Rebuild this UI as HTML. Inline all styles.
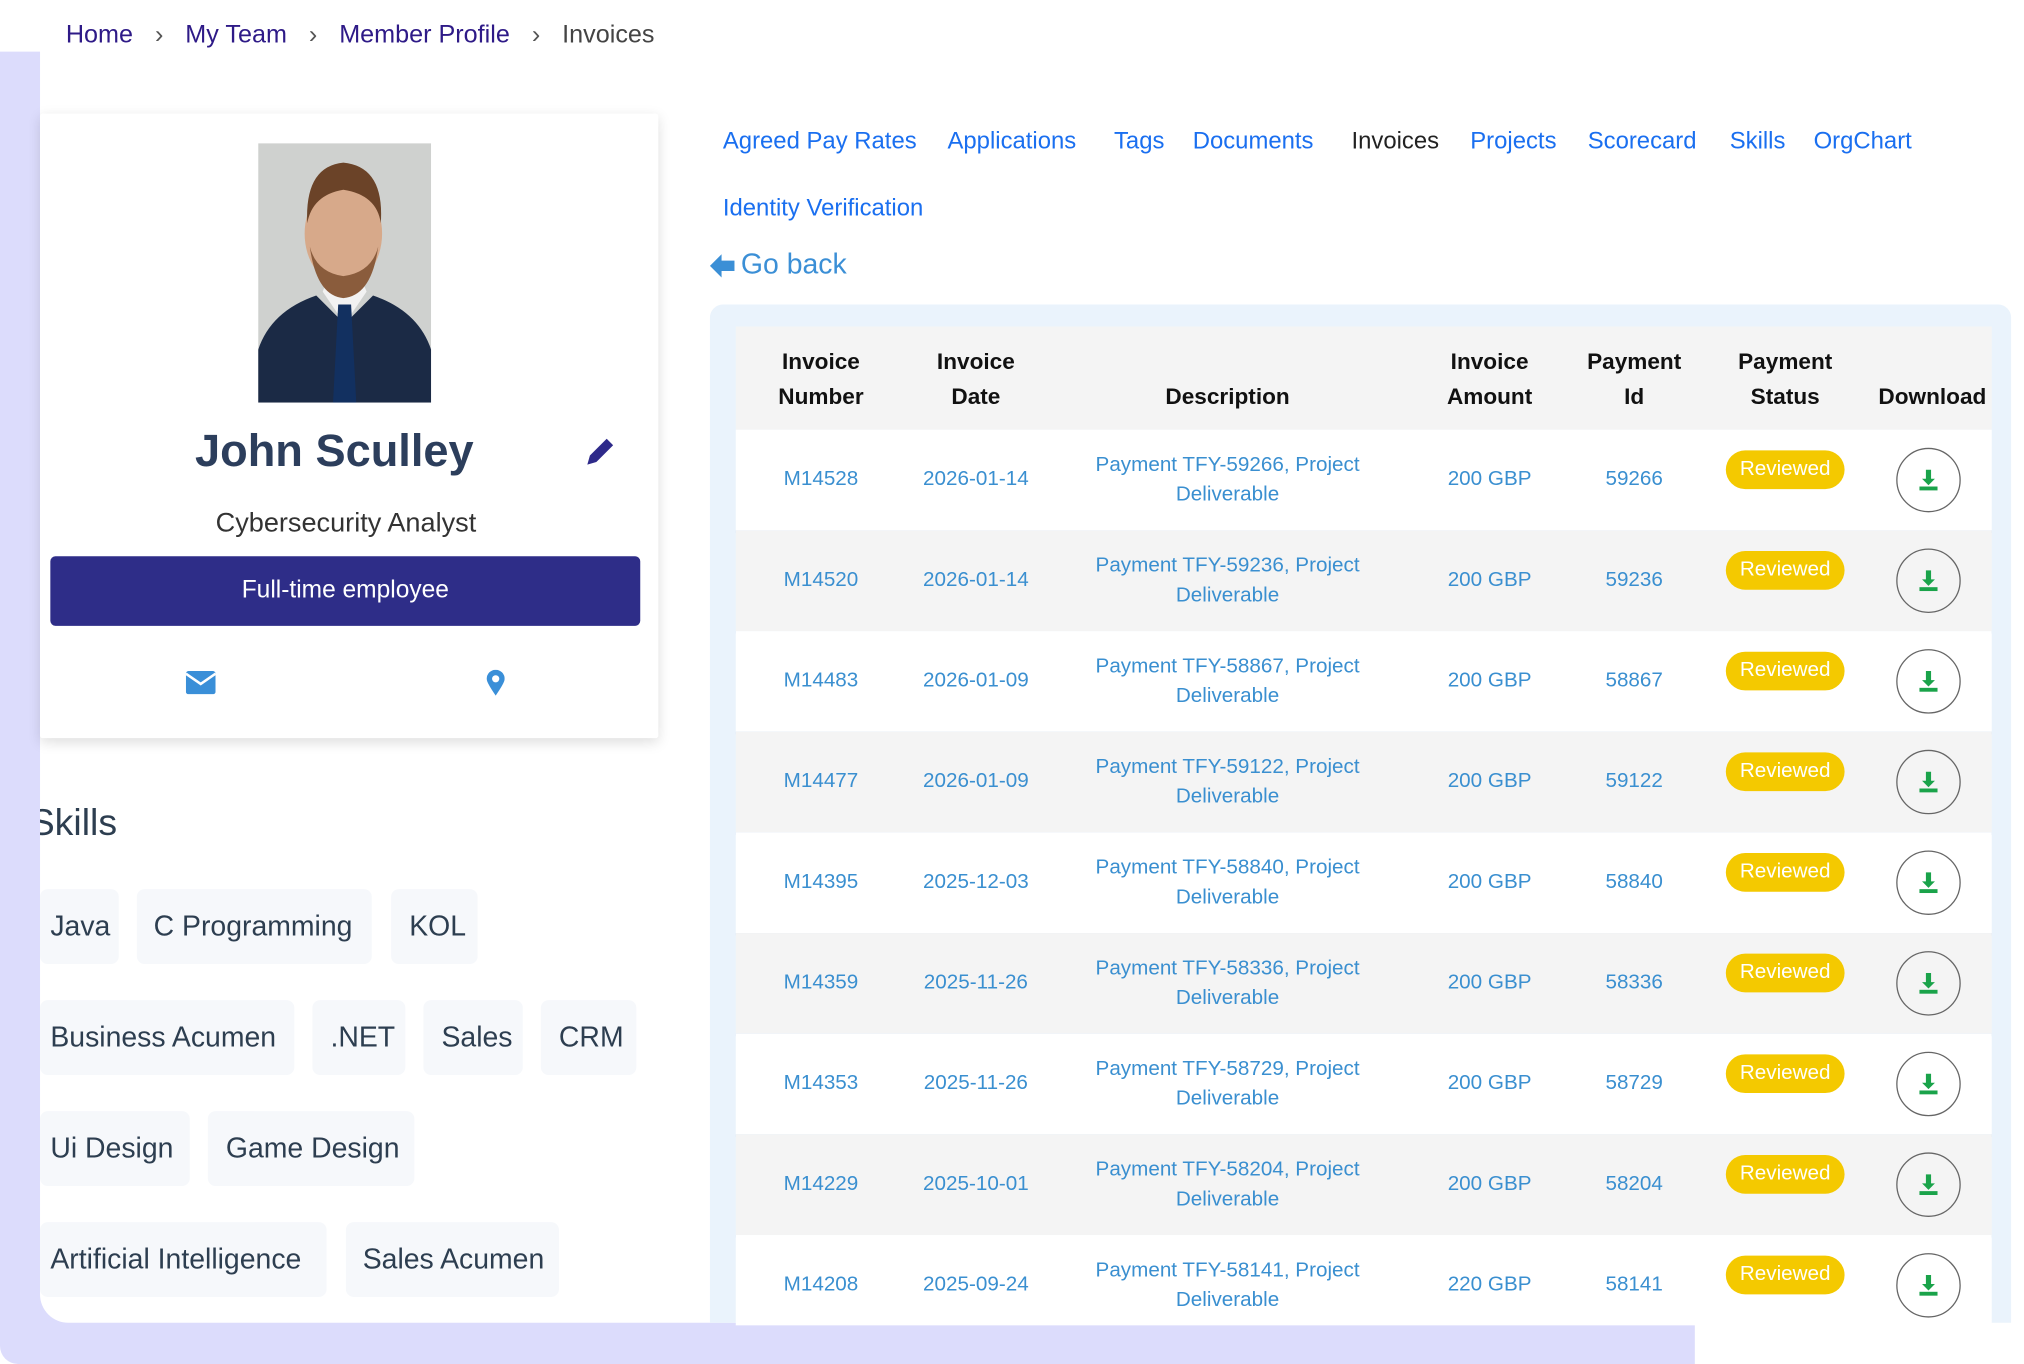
<!DOCTYPE html>
<html><head><meta charset="utf-8"><style>
html,body{margin:0;padding:0;width:2024px;height:1364px;overflow:hidden;background:#fff}
#s{position:absolute;left:0;top:0;width:1568px;height:1057px;transform:scale(1.29082,1.2905);transform-origin:0 0;font-family:"Liberation Sans",sans-serif}
.a{position:absolute;white-space:nowrap}
.c{position:absolute;text-align:center;transform:translateX(-50%);white-space:nowrap}
.chip{position:absolute;height:58px;line-height:58px;background:#f6f8fb;border-radius:6px;font-size:22px;color:#2d3e50;padding:0 8px;box-sizing:border-box;white-space:nowrap}
.tab{position:absolute;top:98px;font-size:18.5px;color:#1a6ff0}
.hd{position:absolute;font-size:17.5px;font-weight:bold;color:#111;text-align:center;transform:translateX(-50%);line-height:27px;white-space:nowrap}
.row{position:absolute;left:570px;width:973px;height:78px;border-bottom:2px solid #bcd6f2}
.t{position:absolute;font-size:16px;color:#3a8fd0;transform:translateX(-50%);text-align:center;white-space:nowrap;line-height:23px}
.bd{position:absolute;left:767px;width:92px;height:30px;border-radius:15px;background:#f4c900;color:#fff;font-size:16px;text-align:center;line-height:30px}
.dl{position:absolute;left:899px;width:48px;height:48px;border:1.3px solid #666;border-radius:50%}
.ch{color:#555;margin:0 17px}
</style></head><body><div id="s">
<div style="position:absolute;left:0;top:37px;width:1313px;height:1020px;background:#dcdcfc;border-radius:0 0 0 14px"></div>
<div style="position:absolute;left:31px;top:37px;width:1527px;height:988px;background:#fff;border-radius:0 0 0 22px;overflow:hidden">
 <div class="a" style="left:-8px;top:585px;font-size:29px;color:#2d3e50">Skills</div>
</div>
<div style="position:absolute;left:0;top:30px;width:1568px;height:10px;background:#fff"></div>
<div class="a" style="left:51px;top:16px;font-size:19.5px;color:#2e1a87">Home<span class="ch">›</span>My Team<span class="ch">›</span>Member Profile<span class="ch">›</span><span style="color:#444">Invoices</span></div>

<div style="position:absolute;left:31px;top:88px;width:479px;height:484px;background:#fff;box-shadow:0 3px 10px rgba(0,0,0,0.13);border-radius:2px"></div>
<svg style="position:absolute;left:200px;top:111px" width="134" height="201" viewBox="0 0 134 201">
<rect width="134" height="201" fill="#cfd1cf"/>
<path d="M0 201 L0 160 Q10 130 45 118 L67 140 L89 118 Q124 130 134 160 L134 201Z" fill="#1b2a45"/>
<path d="M50 115 L67 140 L84 115 L80 105 L54 105Z" fill="#f2f2f2"/>
<path d="M62 125 L72 125 L76 201 L58 201Z" fill="#123060"/>
<ellipse cx="66" cy="70" rx="30" ry="40" fill="#d7a98a"/>
<path d="M38 62 Q36 18 66 15 Q98 18 95 62 Q92 40 66 36 Q42 40 38 62Z" fill="#6b4328"/>
<path d="M40 80 Q45 118 66 120 Q88 118 93 80 Q88 100 66 103 Q45 100 40 80Z" fill="#8a5c3c"/>
</svg>
<div class="c" style="left:259px;top:330px;font-size:35px;font-weight:bold;color:#2c3e5c">John Sculley</div>
<svg style="position:absolute;left:452px;top:337px" width="26" height="26" viewBox="0 0 26 26"><path d="M3 23 L5 16 L18 3 L23 8 L10 21Z" fill="#2e2a8a"/></svg>
<div class="c" style="left:268px;top:394px;font-size:21px;color:#333">Cybersecurity Analyst</div>
<div style="position:absolute;left:39px;top:431px;width:457px;height:54px;background:#2e2d88;border-radius:4px;color:#fff;font-size:19px;text-align:center;line-height:54px">Full-time employee</div>
<svg style="position:absolute;left:144px;top:520px" width="23" height="18"><rect width="23" height="18" rx="2" fill="#3a8fd8"/><path d="M0 2 L11.5 10 L23 2" stroke="#fff" stroke-width="2" fill="none"/></svg>
<svg style="position:absolute;left:377px;top:519px" width="14" height="20"><path d="M7 20 Q0 10 0 7 A7 7 0 0 1 14 7 Q14 10 7 20Z" fill="#3a8fd8"/><circle cx="7" cy="7" r="2.8" fill="#fff"/></svg>

<div class="chip" style="left:31px;top:689px;width:61px">Java</div>
<div class="chip" style="left:106px;top:689px;width:182px;padding-left:13px">C Programming</div>
<div class="chip" style="left:303px;top:689px;width:67px;padding-left:14px">KOL</div>
<div class="chip" style="left:31px;top:775px;width:197px">Business Acumen</div>
<div class="chip" style="left:242px;top:775px;width:72px;padding-left:14px">.NET</div>
<div class="chip" style="left:328px;top:775px;width:77px;padding-left:14px">Sales</div>
<div class="chip" style="left:419px;top:775px;width:74px;padding-left:14px">CRM</div>
<div class="chip" style="left:31px;top:861px;width:116px">Ui Design</div>
<div class="chip" style="left:161px;top:861px;width:160px;padding-left:14px">Game Design</div>
<div class="chip" style="left:31px;top:947px;width:222px">Artificial Intelligence</div>
<div class="chip" style="left:268px;top:947px;width:165px;padding-left:13px">Sales Acumen</div>

<div class="tab" style="left:560px">Agreed Pay Rates</div>
<div class="tab" style="left:734px">Applications</div>
<div class="tab" style="left:863px">Tags</div>
<div class="tab" style="left:924px">Documents</div>
<div class="tab" style="left:1047px;color:#222">Invoices</div>
<div class="tab" style="left:1139px">Projects</div>
<div class="tab" style="left:1230px">Scorecard</div>
<div class="tab" style="left:1340px">Skills</div>
<div class="tab" style="left:1405px">OrgChart</div>
<div class="tab" style="left:560px;top:150px">Identity Verification</div>
<svg style="position:absolute;left:550px;top:196px" width="20" height="20"><path d="M0 10 L9 1 L9 6 L19 6 L19 14 L9 14 L9 19Z" fill="#3b8fd6"/></svg>
<div class="a" style="left:574px;top:192px;font-size:22px;color:#3b8fd6">Go back</div>

<div style="position:absolute;left:550px;top:236px;width:1008px;height:789px;background:#eaf3fc;border-radius:10px 10px 0 0"></div>
<div style="position:absolute;left:570px;top:253px;width:973px;height:80px;background:#f4f4f4"></div>
<div class="hd" style="left:636px;top:267px">Invoice<br>Number</div>
<div class="hd" style="left:756px;top:267px">Invoice<br>Date</div>
<div class="hd" style="left:951px;top:294px">Description</div>
<div class="hd" style="left:1154px;top:267px">Invoice<br>Amount</div>
<div class="hd" style="left:1266px;top:267px">Payment<br>Id</div>
<div class="hd" style="left:1383px;top:267px">Payment<br>Status</div>
<div class="hd" style="left:1497px;top:294px">Download</div>

<div id="rows"></div>
<script>
var d=[["M14528","2026-01-14","59266","200"],["M14520","2026-01-14","59236","200"],["M14483","2026-01-09","58867","200"],["M14477","2026-01-09","59122","200"],["M14395","2025-12-03","58840","200"],["M14359","2025-11-26","58336","200"],["M14353","2025-11-26","58729","200"],["M14229","2025-10-01","58204","200"],["M14208","2025-09-24","58141","220"]];
var h="";
for(var i=0;i<d.length;i++){var y=333+i*78;var r=d[i];
h+='<div class="row" style="top:'+y+'px;background:'+(i%2?'#f4f4f4':'#fff')+(i==8?';border-bottom:none;height:70px':'')+'">'+
'<div class="t" style="left:66px;top:27px">'+r[0]+'</div>'+
'<div class="t" style="left:186px;top:27px">'+r[1]+'</div>'+
'<div class="t" style="left:381px;top:16px">Payment TFY-'+r[2]+', Project<br>Deliverable</div>'+
'<div class="t" style="left:584px;top:27px">'+r[3]+' GBP</div>'+
'<div class="t" style="left:696px;top:27px">'+r[2]+'</div>'+
'<div class="bd" style="top:16px">Reviewed</div>'+
'<div class="dl" style="top:14px"><svg width="48" height="48" style="position:absolute;left:-1px;top:-1px"><path d="M23 17 L27 17 L27 24 L30 24 L25 29 L20 24 L23 24Z" fill="#1aa34a"/><rect x="18" y="30" width="14" height="3" fill="#1aa34a"/></svg></div>'+
'</div>';}
document.getElementById("rows").innerHTML=h;
</script>
</div></body></html>
